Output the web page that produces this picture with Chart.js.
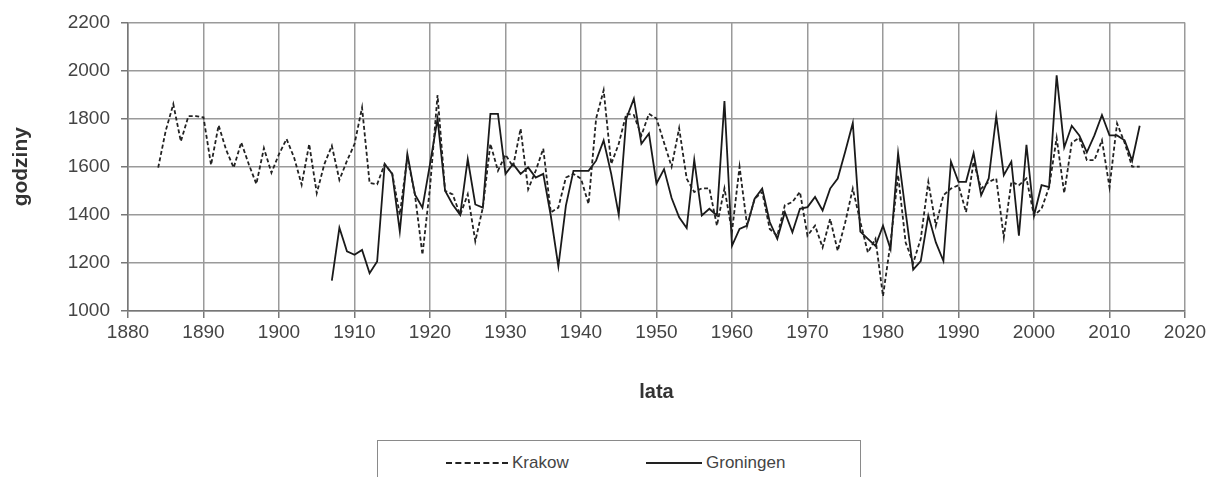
<!DOCTYPE html>
<html>
<head>
<meta charset="utf-8">
<script src="https://cdn.jsdelivr.net/npm/chart.js@4"></script>
<style>
  html, body { margin:0; padding:0; background:#fff; }
  #wrap { position:relative; width:1211px; height:477px; overflow:hidden; }
  #chart { position:absolute; left:0; top:0; }
  #legend {
    position:absolute; left:377px; top:440px; width:484px; height:50px;
    border:1.5px solid #8a8a8a; box-sizing:border-box;
    font-family:"Liberation Sans", Arial, sans-serif; font-size:17px; color:#444;
  }
  .leg-item { position:absolute; top:12px; display:flex; align-items:center; }
  .leg-line { height:0; border-top:2px solid #222; margin-right:4px; }
</style>
</head>
<body>
<div id="wrap">
  <canvas id="chart" width="1211" height="415"></canvas>
  <div id="legend"></div>
</div>
<script>
// Data (hours of sunshine per year)
const krakowStart = 1884;
const krakowValues = [
  1596, 1750, 1860, 1705, 1810, 1810,                         // 1884-1889
  1805, 1607, 1772, 1670, 1596, 1701, 1610, 1528, 1677, 1575, // 1890s
  1652, 1715, 1638, 1525, 1694, 1490, 1610, 1687, 1545, 1624, // 1900s
  1694, 1846, 1532, 1527, 1611, 1570, 1400, 1640, 1485, 1234, // 1910s
  1513, 1898, 1500, 1485, 1400, 1485, 1290, 1430, 1695, 1583, // 1920s
  1650, 1600, 1758, 1506, 1583, 1675, 1410, 1430, 1555, 1570, // 1930s
  1550, 1445, 1800, 1918, 1611, 1695, 1820, 1815, 1730, 1820, // 1940s
  1800, 1700, 1600, 1760, 1550, 1495, 1510, 1510, 1355, 1510, // 1950s
  1330, 1600, 1355, 1467, 1495, 1341, 1313, 1440, 1453, 1495, // 1960s
  1313, 1355, 1264, 1383, 1250, 1369, 1509, 1370, 1243, 1300, // 1970s
  1062, 1285, 1565, 1285, 1200, 1300, 1537, 1355, 1481, 1509, // 1980s
  1523, 1411, 1621, 1509, 1537, 1551, 1306, 1537, 1523, 1551, // 1990s
  1397, 1425, 1515, 1720, 1490, 1700, 1720, 1627, 1627, 1710, // 2000s
  1515, 1780, 1700, 1600, 1600                                // 2010-2014
];
const groningenStart = 1907;
const groningenValues = [
  1126, 1346, 1248,                                           // 1907-1909
  1234, 1254, 1157, 1206, 1611, 1570, 1331, 1653, 1485, 1430, // 1910s
  1611, 1800, 1500, 1443, 1400, 1632, 1443, 1430, 1820, 1820, // 1920s
  1570, 1611, 1570, 1597, 1555, 1570, 1396, 1186, 1438, 1583, // 1930s
  1583, 1583, 1625, 1709, 1570, 1400, 1800, 1883, 1695, 1738, // 1940s
  1530, 1590, 1470, 1390, 1345, 1628, 1397, 1425, 1397, 1873, // 1950s
  1271, 1341, 1355, 1467, 1509, 1370, 1300, 1411, 1327, 1425, // 1960s
  1432, 1474, 1418, 1509, 1551, 1663, 1782, 1330, 1300, 1271, // 1970s
  1355, 1257, 1656, 1411, 1172, 1207, 1397, 1285, 1208, 1621, // 1980s
  1537, 1537, 1656, 1481, 1551, 1810, 1565, 1621, 1313, 1691, // 1990s
  1397, 1523, 1515, 1980, 1680, 1770, 1730, 1660, 1730, 1815, // 2000s
  1730, 1730, 1710, 1625, 1770                                // 2010-2014
];
const xTickLabels = [1880, 1890, 1900, 1910, 1920, 1930, 1940, 1950, 1960, 1970, 1980, 1990, 2000, 2010, 2020];
const yTickLabels = [1000, 1200, 1400, 1600, 1800, 2000, 2200];

function toPoints(start, vals) { return vals.map((v, i) => ({ x: start + i, y: v })); }

const tickFont = { family: '"Liberation Sans", Arial, sans-serif', size: 19 };
const titleFont = { family: '"Liberation Sans", Arial, sans-serif', size: 20, weight: 'bold', lineHeight: 1.2 };
const gridColor = '#9a9a9a';

const chart = new Chart(document.getElementById('chart'), {
  type: 'line',
  data: {
    datasets: [
      { label: 'Krakow', data: toPoints(krakowStart, krakowValues),
        borderColor: '#222', borderWidth: 1.8, borderDash: [4, 2.5], pointRadius: 0, tension: 0, fill: false },
      { label: 'Groningen', data: toPoints(groningenStart, groningenValues),
        borderColor: '#1a1a1a', borderWidth: 1.8, pointRadius: 0, tension: 0, fill: false }
    ]
  },
  options: {
    responsive: false,
    animation: false,
    layout: { padding: { top: 22, right: 26, left: 0, bottom: 0 } },
    plugins: { legend: { display: false }, tooltip: { enabled: false } },
    scales: {
      x: {
        type: 'linear', min: 1880, max: 2020,
        afterBuildTicks: s => { s.ticks = xTickLabels.map(v => ({ value: v })); },
        afterFit: s => { s.height = 104; },
        ticks: { font: tickFont, color: '#444', padding: 3, maxRotation: 0, autoSkip: false, callback: v => String(v) },
        grid: { color: gridColor, lineWidth: 1.5, tickLength: 7, tickColor: '#777' },
        border: { color: '#777', width: 1.5 },
        title: { display: true, text: 'lata', font: titleFont, color: '#333', padding: { top: 0, bottom: 11 } }
      },
      y: {
        min: 1000, max: 2200,
        afterBuildTicks: s => { s.ticks = yTickLabels.map(v => ({ value: v })); },
        afterFit: s => { s.width = 128; },
        ticks: { font: tickFont, color: '#444', padding: 11, callback: v => String(v) },
        grid: { color: gridColor, lineWidth: 1.5, tickLength: 7, tickColor: '#777' },
        border: { color: '#777', width: 1.5 },
        title: { display: true, text: 'godziny', font: { ...titleFont, size: 21 }, color: '#333', padding: { top: 9, bottom: 0 } }
      }
    }
  }
});

// HTML legend built from the datasets
const legend = document.getElementById('legend');
const legPos = [{ left: 68, w: 62 }, { left: 268, w: 56 }];
chart.data.datasets.forEach((ds, i) => {
  const item = document.createElement('div');
  item.className = 'leg-item';
  item.style.left = legPos[i].left + 'px';
  const line = document.createElement('span');
  line.className = 'leg-line';
  line.style.width = legPos[i].w + 'px';
  if (ds.borderDash) line.style.borderTopStyle = 'dashed';
  const txt = document.createElement('span');
  txt.textContent = ds.label;
  item.appendChild(line); item.appendChild(txt);
  legend.appendChild(item);
});
</script>
</body>
</html>
